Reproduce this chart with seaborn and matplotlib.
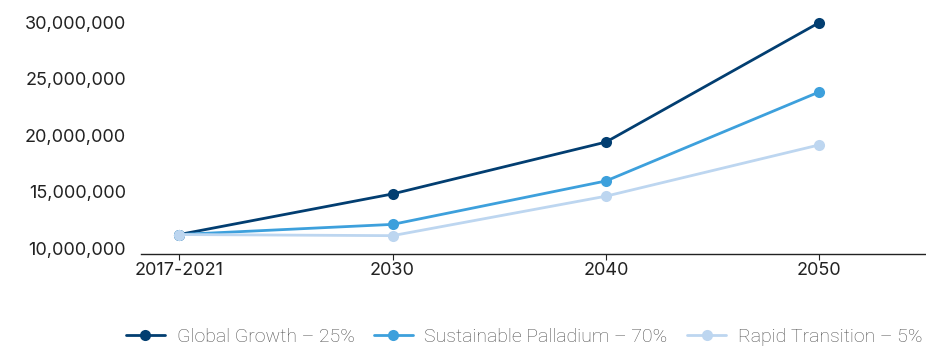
import numpy as np
import pandas as pd
import seaborn as sns
from matplotlib import pyplot as plt
from matplotlib.ticker import FuncFormatter

periodos = ["2017-2021", "2030", "2040", "2050"]
global_growth = [11.2e6, 14.8e6, 19.4e6, 30.0e6]
sustainable = [11.2e6, 12.1e6, 15.95e6, 23.85e6]
rapid = [11.2e6, 11.1e6, 14.6e6, 19.15e6]
series = ["Global Growth \u2013 25%", "Sustainable Palladium \u2013 70%", "Rapid Transition \u2013 5%"]
colores = ["#023e71", "#3da0dc", "#bdd6f0"]

df = pd.DataFrame({
    "periodo": periodos * 3,
    "x": list(range(len(periodos))) * 3,
    "valor": global_growth + sustainable + rapid,
    "serie": [s for s in series for _ in periodos],
})

sns.set_style("white")
plt.rcParams["font.family"] = ["Inter", "DejaVu Sans"]

fig = plt.figure(figsize=(9.26, 3.48), dpi=100)
ax = fig.add_axes([0.152, 0.27, 0.848, 0.73])

sns.lineplot(data=df, x="x", y="valor", hue="serie", palette=colores,
             marker="o", markersize=8, markeredgewidth=0, linewidth=2,
             ax=ax, legend=True)

ax.set_xlim(-0.18, 3.5)
ax.set_ylim(9.47e6, 32.0e6)
ax.set_xticks(range(len(periodos)))
ax.set_xticklabels(periodos)
ax.set_yticks([10e6, 15e6, 20e6, 25e6, 30e6])
ax.yaxis.set_major_formatter(FuncFormatter(lambda v, p: f"{int(v):,}"))
ax.set_xlabel("")
ax.set_ylabel("")
for s in ["top", "right", "left"]:
    ax.spines[s].set_visible(False)
ax.spines["bottom"].set_color("#222222")
ax.spines["bottom"].set_linewidth(1)
ax.tick_params(axis="x", bottom=True, length=4, width=0.8, color="#222222",
               labelsize=13, labelcolor="#222222", pad=2)
ax.tick_params(axis="y", left=False, labelsize=13, labelcolor="#222222", pad=7)

handles, labels = ax.get_legend_handles_labels()
ax.get_legend().remove()
leg = fig.legend(handles, labels, loc="center", bbox_to_anchor=(0.566, 0.032),
                 ncol=3, frameon=False, fontsize=14, handlelength=2.0, columnspacing=1.0,
                 handletextpad=0.6, borderpad=0.2)
for t in leg.get_texts():
    t.set_color("#505050")
    t.set_family(["Roboto", "DejaVu Sans"])
    t.set_fontweight("light")

fig.savefig("out.png", dpi=100)
